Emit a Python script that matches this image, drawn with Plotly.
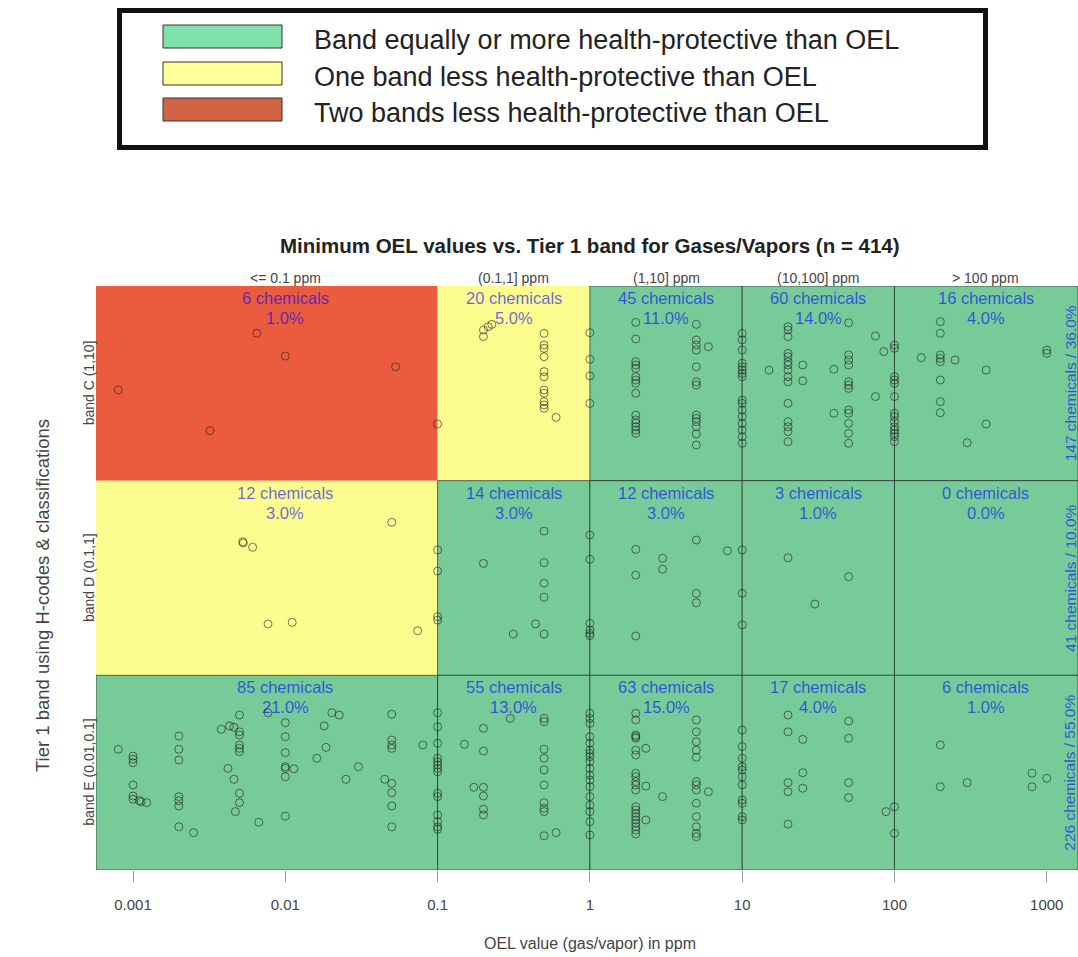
import numpy as np
import plotly.graph_objects as go

# ---- data -------------------------------------------------------------
oel_bins = ["<= 0.1 ppm", "(0.1,1] ppm", "(1,10] ppm", "(10,100] ppm", "> 100 ppm"]
bin_edges_log = [-3.243, -1, 0, 1, 2, 3.205]          # log10 ppm, plot limits at the ends
bin_label_log = [-2, -0.5, 0.5, 1.5, 2.6]              # where the column captions sit

bands = ["band C (1,10]", "band D (0.1,1]", "band E (0.01,0.1]"]
band_base = [2, 1, 0]                                  # vertical slot of each band

# chemicals per cell (rows: C, D, E)
cell_counts = [[6, 20, 45, 60, 16],
               [12, 14, 12, 3, 0],
               [85, 55, 63, 17, 6]]
cell_pct = [["1.0%", "5.0%", "11.0%", "14.0%", "4.0%"],
            ["3.0%", "3.0%", "3.0%", "1.0%", "0.0%"],
            ["21.0%", "13.0%", "15.0%", "4.0%", "1.0%"]]
row_totals = ["147 chemicals / 36.0%", "41 chemicals / 10.0%", "226 chemicals / 55.0%"]

# how many bands less protective than the OEL (0 = equal or more)
cell_level = [[2, 1, 0, 0, 0],
              [1, 0, 0, 0, 0],
              [0, 0, 0, 0, 0]]
level_names = ["Band equally or more health-protective than OEL",
               "One band less health-protective than OEL",
               "Two bands less health-protective than OEL"]

# chemicals: (OEL in ppm, vertical jitter inside the band)
band_c_points = [
    (0.0008, [0.466]), (0.0032, [0.257]), (0.0065, [0.757]), (0.01, [0.64]),
    (0.053, [0.585]), (0.1, [0.291]),
    (0.2, [0.74, 0.774]), (0.215, [0.791]), (0.227, [0.803]),
    (0.5, [0.757, 0.697, 0.68, 0.637, 0.56, 0.534, 0.466, 0.449, 0.406, 0.389, 0.372]),
    (0.6, [0.325]),
    (1, [0.76, 0.623, 0.538, 0.397]),
    (2, [0.813, 0.728, 0.611, 0.594, 0.577, 0.534, 0.517, 0.5, 0.449, 0.337, 0.312,
         0.295, 0.277, 0.26, 0.243]),
    (5, [0.803, 0.723, 0.697, 0.671, 0.585, 0.508, 0.491, 0.337, 0.32, 0.303, 0.277,
         0.24, 0.183]),
    (6, [0.688]),
    (10, [0.757, 0.723, 0.671, 0.603, 0.585, 0.568, 0.551, 0.534, 0.414, 0.397, 0.363,
          0.329, 0.294, 0.26, 0.226, 0.192]),
    (15, [0.568]),
    (20, [0.791, 0.774, 0.74, 0.654, 0.637, 0.611, 0.594, 0.568, 0.534, 0.508, 0.397,
          0.303, 0.277, 0.252, 0.2]),
    (25, [0.594, 0.513]), (40, [0.572, 0.346]),
    (50, [0.811, 0.646, 0.62, 0.594, 0.508, 0.491, 0.474, 0.363, 0.346, 0.294, 0.243, 0.192]),
    (75, [0.743, 0.432]), (85, [0.663]),
    (100, [0.697, 0.68, 0.534, 0.517, 0.5, 0.432, 0.346, 0.329, 0.303, 0.277, 0.26,
           0.243, 0.226, 0.2]),
    (150, [0.632]),
    (200, [0.817, 0.757, 0.646, 0.628, 0.611, 0.517, 0.406, 0.349]),
    (250, [0.62]), (300, [0.195]), (400, [0.568, 0.291]), (1000, [0.671, 0.654]),
]

band_d_points = [
    (0.00525, [0.686]), (0.0053, [0.68]), (0.0061, [0.658]), (0.0077, [0.264]),
    (0.0111, [0.272]), (0.05, [0.786]), (0.074, [0.229]),
    (0.1, [0.644, 0.536, 0.301, 0.284]),
    (0.2, [0.575]), (0.314, [0.212]), (0.44, [0.264]),
    (0.5, [0.741, 0.579, 0.473, 0.401, 0.212]),
    (1, [0.721, 0.596, 0.267, 0.233, 0.216, 0.204]),
    (2, [0.647, 0.515, 0.202]), (3, [0.601, 0.545]), (5, [0.695, 0.421, 0.373]),
    (8, [0.64]), (10, [0.644, 0.421, 0.259]),
    (20, [0.604]), (30, [0.366]), (50, [0.507]),
]

band_e_points = [
    (0.0008, [0.62]),
    (0.001, [0.585, 0.569, 0.551, 0.437, 0.38, 0.363]),
    (0.0011, [0.356]), (0.00113, [0.351]), (0.00123, [0.346]),
    (0.002, [0.688, 0.62, 0.565, 0.377, 0.356, 0.329, 0.222]),
    (0.0025, [0.192]), (0.0038, [0.723]), (0.0042, [0.522]), (0.0043, [0.74]),
    (0.0046, [0.733, 0.466]), (0.0047, [0.3]),
    (0.005, [0.796, 0.71, 0.693, 0.642, 0.625, 0.608, 0.394, 0.346]),
    (0.0067, [0.245]), (0.0077, [0.808]),
    (0.01, [0.757, 0.685, 0.603, 0.531, 0.522, 0.479, 0.277]),
    (0.0114, [0.52]), (0.0161, [0.574]), (0.018, [0.74]), (0.0185, [0.63]),
    (0.0202, [0.808]), (0.0226, [0.796]), (0.025, [0.466]), (0.0302, [0.531]),
    (0.045, [0.466]),
    (0.05, [0.8, 0.668, 0.642, 0.625, 0.445, 0.397, 0.329, 0.222]),
    (0.08, [0.642]),
    (0.1, [0.808, 0.736, 0.651, 0.574, 0.556, 0.539, 0.522, 0.505, 0.394, 0.377, 0.283,
           0.248, 0.222, 0.209]),
    (0.15, [0.646]), (0.173, [0.425]),
    (0.2, [0.728, 0.611, 0.425, 0.38, 0.312, 0.283]),
    (0.3, [0.779]),
    (0.5, [0.779, 0.762, 0.62, 0.574, 0.514, 0.437, 0.346, 0.317, 0.3, 0.176]),
    (0.6, [0.192]),
    (1, [0.805, 0.779, 0.753, 0.685, 0.651, 0.616, 0.599, 0.582, 0.556, 0.522, 0.488,
         0.462, 0.428, 0.377, 0.334, 0.3, 0.248, 0.18]),
    (2, [0.805, 0.771, 0.693, 0.685, 0.677, 0.616, 0.591, 0.497, 0.479, 0.454, 0.437,
         0.411, 0.325, 0.308, 0.291, 0.274, 0.257, 0.24, 0.222, 0.205, 0.185]),
    (2.33, [0.625, 0.431, 0.257]), (3, [0.377]),
    (5, [0.771, 0.71, 0.659, 0.616, 0.579, 0.454, 0.437, 0.411, 0.343, 0.274, 0.222,
         0.188, 0.171]),
    (6, [0.402]),
    (10, [0.719, 0.634, 0.574, 0.531, 0.514, 0.479, 0.437, 0.36, 0.343, 0.274, 0.257]),
    (20, [0.796, 0.71, 0.449, 0.402, 0.236]), (25, [0.671, 0.5, 0.42]),
    (50, [0.765, 0.677, 0.449, 0.372]), (88, [0.3]), (100, [0.325, 0.188]),
    (200, [0.642, 0.428]), (300, [0.449]), (800, [0.497, 0.428]), (1000, [0.471]),
]

x_ticks = [0.001, 0.01, 0.1, 1, 10, 100, 1000]
x_tick_text = ["0.001", "0.01", "0.1", "1", "10", "100", "1000"]

# ---- styling ----------------------------------------------------------
W, H = 1078, 957
L, R, T, B = 96, 1078, 286, 870
cell_fill = ["#76cb98", "#fdfc8e", "#eb5b3d"]
legend_fill = ["#80e2aa", "#ffff99", "#d26446"]
label_blue = "rgba(0,0,255,0.6)"
FONT = "Liberation Sans, Arial, sans-serif"


def px(x):
    return (x - L) / (R - L)


def py(y):
    return (B - y) / (B - T)


def label(x, y, text, size, color, xref="paper", yref="paper", angle=0, xanchor="center"):
    return dict(x=x, y=y, xref=xref, yref=yref, text=text, textangle=angle,
                xanchor=xanchor, yanchor="middle", showarrow=False,
                font=dict(size=size, color=color, family=FONT))


fig = go.Figure()

# background cells
for r, base in enumerate(band_base):
    for c in range(len(oel_bins)):
        x0, x1 = 10 ** bin_edges_log[c], 10 ** bin_edges_log[c + 1]
        lvl = cell_level[r][c]
        fig.add_trace(go.Scatter(
            x=[x0, x1, x1, x0, x0], y=[base, base, base + 1, base + 1, base],
            mode="lines", fill="toself", fillcolor=cell_fill[lvl],
            line=dict(color="rgba(40,40,40,0.7)" if lvl == 0 else "rgba(0,0,0,0)", width=1),
            hoverinfo="skip", showlegend=False))

# chemicals
for pts, base in zip([band_c_points, band_d_points, band_e_points], band_base):
    xs, ys = [], []
    for oel, jit in pts:
        for j in jit:
            xs.append(oel)
            ys.append(base + j)
    fig.add_trace(go.Scatter(
        x=xs, y=ys, mode="markers",
        marker=dict(symbol="circle-open", size=8, color="rgba(30,30,30,0.6)",
                    line=dict(width=1)),
        showlegend=False, hoverinfo="skip"))

ann = []
# cell captions
for r, base in enumerate(band_base):
    top_px = T + r * (B - T) / 3
    for c in range(len(oel_bins)):
        ann.append(label(bin_label_log[c], py(top_px + 12), f"{cell_counts[r][c]} chemicals",
                         16.5, label_blue, xref="x"))
        ann.append(label(bin_label_log[c], py(top_px + 32), cell_pct[r][c],
                         16.5, label_blue, xref="x"))
    # band names on the left and totals on the right
    ann.append(label(px(89), base + 0.5, bands[r], 14, "#444", yref="y", angle=-90))
    ann.append(label(px(1070), base + 0.5, row_totals[r], 15.5, label_blue, yref="y",
                     angle=-90))

# column headers
for c, name in enumerate(oel_bins):
    ann.append(label(bin_label_log[c], py(278), name, 14, "#444", xref="x"))

# titles
ann.append(label(px(590), py(245),
                 "<b>Minimum OEL values vs. Tier 1 band for Gases/Vapors (n = 414)</b>",
                 20.5, "#222"))
ann.append(label(px(590), py(943), "OEL value (gas/vapor) in ppm", 16, "#444"))
ann.append(label(px(42), py(596), "Tier 1 band using H-codes & classifications", 18.5,
                 "#444", angle=-90))

# legend box
shapes = [dict(type="rect", xref="paper", yref="paper",
               x0=px(119.5), x1=px(985.5), y0=py(147.5), y1=py(10.5),
               line=dict(color="#111", width=5), fillcolor="white")]
for i, (name, col) in enumerate(zip(level_names, legend_fill)):
    yc = [36.5, 73.5, 109.5][i]
    shapes.append(dict(type="rect", xref="paper", yref="paper",
                       x0=px(163), x1=px(282), y0=py(yc + 11.5), y1=py(yc - 11.5),
                       line=dict(color="#333", width=1), fillcolor=col))
    ann.append(label(px(312), py(yc + 4), name, 27, "#222", xanchor="left"))

fig.update_layout(
    width=W, height=H, margin=dict(l=L, r=W - R, t=T, b=H - B),
    paper_bgcolor="white", plot_bgcolor="white",
    xaxis=dict(type="log", range=[bin_edges_log[0], bin_edges_log[-1]],
               tickvals=x_ticks, ticktext=x_tick_text, ticks="outside", ticklen=11,
               tickcolor="#999", showgrid=False, zeroline=False, showline=False,
               tickfont=dict(size=15, color="#444", family=FONT), ticklabelstandoff=10),
    yaxis=dict(range=[0, 3], showticklabels=False, showgrid=False, zeroline=False,
               showline=False, ticks=""),
    annotations=ann, shapes=shapes,
)

fig.write_html("out.html")
